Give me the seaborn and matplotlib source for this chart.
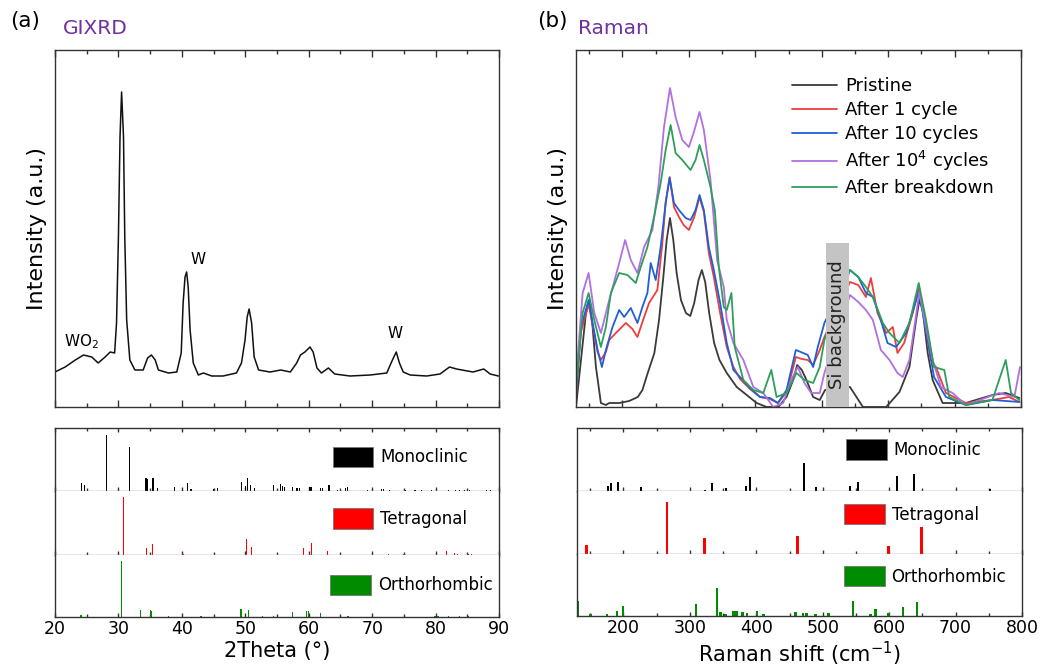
import numpy as np
import pandas as pd
import matplotlib
matplotlib.use("Agg")
import matplotlib.pyplot as plt
import seaborn as sns
from matplotlib.patches import Patch, Rectangle
from matplotlib.ticker import MultipleLocator

sns.set_theme(style="white")
plt.rcParams['font.family'] = ['DejaVu Sans']
plt.rcParams['mathtext.fontset'] = 'dejavusans'
plt.rcParams['text.color'] = 'black'
plt.rcParams['axes.labelcolor'] = 'black'
plt.rcParams['xtick.color'] = 'black'
plt.rcParams['ytick.color'] = 'black'

# ---------------- GIXRD pattern ----------------
xrd_2theta = [20.0, 21.6, 23.2, 24.5, 25.8, 26.8, 27.9, 28.7, 29.4, 29.7, 30.0, 30.25, 30.5, 30.8, 31.0,
              31.3, 31.8, 32.6, 33.9, 34.6, 35.2, 35.8, 36.3, 37.9, 39.2, 39.9, 40.2, 40.5, 40.75, 41.0,
              41.3, 41.8, 42.6, 43.4, 44.7, 46.5, 48.6, 49.4, 49.96, 50.3, 50.6, 51.0, 51.4, 52.1, 53.9,
              55.6, 57.1, 58.1, 58.7, 59.4, 60.2, 60.7, 61.3, 62.0, 63.1, 64.1, 66.5, 69.7, 72.3, 73.2,
              73.8, 74.3, 74.9, 76.0, 78.6, 80.7, 82.2, 83.3, 85.9, 87.6, 88.6, 89.9]
xrd_int = [35, 40, 47, 52, 50, 44, 50, 55, 54, 84, 170, 270, 315, 270, 170,
           87, 47, 37, 37, 49, 52, 47, 37, 34, 35, 54, 104, 130, 135, 120,
           77, 44, 32, 34, 31, 31, 34, 44, 67, 90, 98, 84, 50, 37, 35,
           37, 35, 44, 52, 55, 60, 55, 39, 34, 39, 33, 31, 32, 34, 47,
           55, 44, 35, 32, 31, 33, 40, 38, 35, 38, 33, 31]

# XRD reference stick patterns
mono_xrd_pos = [24.2, 24.6, 28.15, 31.7, 34.35, 34.55, 35.45, 36.1, 38.8, 40.1, 40.9, 41.3, 41.5, 45.0, 45.6,
                49.4, 50.0, 50.3, 50.85, 51.4, 54.5, 55.6, 55.9, 56.2, 57.4, 58.15, 58.5, 60.1, 60.35, 61.8,
                62.2, 63.2, 64.6, 65.8, 66.1, 69.3, 71.5, 71.8, 72.8, 75.3, 76.75, 77.8, 79.3, 82.0, 83.1,
                83.8, 84.6, 85.4, 88.05, 88.7]
mono_xrd_h = [8.3, 6, 56, 44, 13, 12, 12.7, 3.3, 4.3, 1, 8, 2.3, 2.3, 2.3, 3.3,
              9.3, 5, 12.7, 6, 2.7, 6, 6.7, 4.7, 4.3, 4, 3.3, 2.7, 4, 4, 2.7,
              3.3, 5.7, 1, 2.7, 4, 1, 1.7, 1.7, 0.7, 1, 1, 1, 1, 1, 1,
              1, 1, 1, 1, 1]
tet_xrd_pos = [30.77, 34.45, 35.4, 40.2, 50.2, 51.0, 59.15, 60.4, 63.0, 72.55, 74.9, 81.75, 82.95, 83.5, 85.15, 85.7]
tet_xrd_h = [56.7, 7.3, 11, 0.7, 15.3, 7.7, 6.7, 12, 4, 1, 1.3, 3.7, 1.7, 1.3, 1.3, 1.3]
ortho_xrd_pos = [24.1, 30.45, 33.45, 35.0, 35.2, 37.9, 43.0, 49.2, 49.4, 50.5, 52.7, 54.4, 57.45, 59.7, 59.95,
                 61.9, 66.2, 79.9, 80.4, 82.0, 83.8, 85.2]
ortho_xrd_h = [1.7, 56.7, 7, 7.3, 6.3, 1.3, 1, 7.7, 7.7, 7, 1.3, 1.3, 5.3, 6, 5.7,
               4, 0.7, 1.3, 1.3, 1.3, 0.7, 0.7]

# ---------------- Raman spectra ----------------
pristine_x = [130, 137.5, 145, 150, 155, 160, 167.5, 175, 180, 195, 210, 223, 230, 238, 248, 255, 261.5, 266.5,
              271.5, 276.5, 281.5, 288, 295.5, 302, 308, 314.5, 319.5, 324.5, 330.5, 338, 346, 357, 372, 387,
              402, 417, 434.5, 447, 457, 463, 470, 477, 487, 497, 505, 542.5, 562, 597, 617, 632, 642, 647,
              652, 659.5, 667, 682, 717, 757, 777, 797.5]
pristine_y = [0, 47, 94, 107, 80, 40, 4, 2, 4, 4, 6, 10, 17, 34, 54, 87, 130, 167,
              189, 167, 134, 107, 94, 91, 104, 127, 137, 125, 94, 64, 47, 34, 20, 12,
              4, 0, 0, 10, 27, 42, 37, 27, 10, 7, 17, 20, 0, 0, 15, 40, 87, 107,
              97, 54, 27, 4, 4, 12, 14, 9]
cyc1_x = [130, 137.5, 149, 155, 162.5, 167.5, 175, 180, 190, 205, 215, 222.5, 230, 240, 252.5, 260, 265, 271,
          277.5, 285, 292, 300, 308, 316, 322.5, 330, 337.5, 347, 357, 367, 377, 392, 407, 422, 434, 447,
          454, 461, 470, 479, 487, 497, 504, 542.5, 555, 566.5, 574, 584, 597, 607, 614, 624, 637, 646,
          654, 664, 672, 687, 717, 757, 782, 797.5]
cyc1_y = [10, 75, 103, 82, 55, 47, 55, 67, 74, 84, 78, 70, 85, 104, 117, 164, 205, 230,
          200, 190, 182, 177, 190, 210, 195, 154, 130, 94, 60, 40, 28, 18, 10, 8, 4, 15,
          32, 50, 48, 47, 42, 57, 70, 125, 122, 110, 129, 94, 74, 80, 54, 64, 94, 119,
          90, 47, 40, 14, 4, 7, 10, 5]
cyc10_x = [130, 137.5, 149, 155, 162.5, 169, 175, 185, 195, 202.5, 212.5, 222.5, 230, 237.5, 242.5, 250, 257.5,
           265, 271, 277.5, 285, 295, 302.5, 310, 316, 322.5, 330, 337.5, 347, 357, 367, 377, 392, 407, 422,
           434, 447, 454, 461, 472, 479, 487, 494, 504, 542.5, 555, 566.5, 577, 589, 599, 612, 627, 646,
           657, 669, 687, 717, 757, 797.5]
cyc10_y = [14, 80, 107, 84, 57, 40, 57, 80, 97, 90, 99, 84, 100, 114, 144, 127, 160,
           204, 229, 204, 197, 189, 187, 197, 212, 197, 160, 137, 104, 64, 37, 30, 19, 10, 9,
           4, 17, 37, 57, 54, 52, 40, 60, 84, 137, 130, 114, 110, 87, 64, 60, 74, 115,
           77, 30, 10, 2, 7, 5]
cyc1e4_x = [130, 140, 149, 157.5, 167.5, 180, 195, 204, 212.5, 222.5, 232.5, 245, 254, 262.5, 271.5, 280, 290,
            300, 307.5, 316, 322.5, 332.5, 342.5, 352.5, 357, 367, 382, 397, 412, 427, 442, 454, 464, 474,
            484, 497, 504, 542.5, 555, 566.5, 577, 589, 602, 614, 622, 632, 641, 647, 654, 667, 679.5,
            697, 717, 767, 790, 798.5]
cyc1e4_y = [27, 114, 134, 94, 74, 107, 144, 167, 147, 134, 160, 177, 220, 280, 319, 290, 267,
            260, 275, 295, 277, 227, 147, 120, 87, 64, 47, 20, 14, 0, 4, 27, 40, 24,
            14, 14, 34, 112, 105, 97, 87, 57, 47, 34, 30, 47, 87, 115, 90, 47, 20,
            14, 2, 14, 10, 40]
brk_x = [130, 140, 149, 157.5, 167.5, 175, 182.5, 195, 207.5, 220, 227.5, 237.5, 247.5, 257.5, 265, 272.5, 280,
         290, 302.5, 310, 316, 322.5, 332.5, 339, 345, 352.5, 357, 364, 369, 382, 397, 412, 424, 432, 447,
         462, 474, 487, 497, 504, 542.5, 555, 566.5, 577, 592, 602, 617, 632, 646, 657, 669, 684.5, 692,
         717, 757, 777, 785, 797.5]
brk_y = [20, 94, 114, 87, 60, 80, 114, 134, 132, 124, 140, 160, 190, 224, 257, 282, 254,
         247, 237, 247, 262, 247, 220, 197, 140, 100, 97, 114, 60, 27, 17, 14, 37, 10, 14,
         34, 27, 24, 40, 67, 137, 130, 120, 110, 84, 74, 64, 84, 124, 87, 40, 37, 10,
         2, 7, 47, 14, 7]
raman_labels = ["Pristine", "After 1 cycle", "After 10 cycles", "After 10$^4$ cycles", "After breakdown"]
raman_colors = ["#3a3a3a", "#F03C3C", "#1F5FD8", "#B070E0", "#2E9E5B"]

# Raman reference stick patterns
mono_raman_pos = [176.7, 181.7, 192.2, 225.9, 323, 333.3, 354.3, 385, 391, 471.3, 490.3, 541.5, 553, 611.8, 636.9, 752.3]
mono_raman_h = [5.3, 7.7, 9.3, 3.7, 0.7, 8, 3.3, 5, 14.3, 27.7, 4.3, 5, 9.3, 15.3, 17.3, 2.3]
tet_raman_pos = [144, 265.5, 322.7, 462.7, 599.2, 648.4]
tet_raman_h = [8.7, 51.7, 15.7, 18, 8, 26.7]
ortho_raman_pos = [131, 150, 175, 190, 199.3, 309, 340.8, 345.8, 353.3, 365.9, 370, 379.4, 386, 401, 411,
                   458.7, 470.3, 475.3, 488.8, 508.9, 545.5, 571.6, 579.2, 599.2, 620.8, 641.9]
ortho_raman_h = [15.3, 1.7, 1.7, 5, 10.3, 11.7, 28.3, 4, 2.3, 5, 5, 4.3, 2.7, 5, 2.3,
                 4.3, 2.7, 2.7, 1.7, 2.7, 15, 1.7, 6.7, 3.3, 9, 14.3]

phase_names = ["Monoclinic", "Tetragonal", "Orthorhombic"]
phase_colors = ["#000000", "#FF0000", "#008C00"]

si_band = (506, 541, 164)   # Si background shading: x from, x to, height

# ---------------- figure layout ----------------
W, H = 1041, 671
fig = plt.figure(figsize=(W / 100, H / 100), dpi=100)


def rect(l, t, r, b):
    return [l / W, 1 - b / H, (r - l) / W, (b - t) / H]


axA = fig.add_axes(rect(55, 50, 499, 407))
axB = fig.add_axes(rect(576, 50, 1021, 407))
rowsA = [fig.add_axes(rect(55, t, 499, b)) for t, b in [(428, 491), (491, 555), (555, 617)]]
rowsB = [fig.add_axes(rect(577, t, 1022, b)) for t, b in [(428, 491), (491, 554), (554, 616)]]

spine_c = "#333333"
for ax in [axA, axB] + rowsA + rowsB:
    for s in ax.spines.values():
        s.set_color(spine_c)
        s.set_linewidth(1.0)
    ax.set_facecolor("white")

# ---------------- (a) GIXRD top ----------------
sns.lineplot(x=xrd_2theta, y=xrd_int, ax=axA, color="#111111", lw=1.1, estimator=None, sort=False)
axA.set_xlim(20, 90)
axA.set_ylim(0, 357)
axA.set_yticks([])
axA.xaxis.set_major_locator(MultipleLocator(10))
axA.xaxis.set_minor_locator(MultipleLocator(5))
axA.tick_params(axis="x", which="both", direction="in", top=True, bottom=True, labelbottom=False, color=spine_c)
axA.tick_params(axis="x", which="major", length=5, width=1)
axA.tick_params(axis="x", which="minor", length=3, width=1)
axA.set_ylabel("Intensity (a.u.)", fontsize=16, labelpad=6)
axA.text(24.1, 65, "WO$_2$", fontsize=11, ha="center", va="center")
axA.text(42.6, 147, "W", fontsize=11, ha="center", va="center")
axA.text(73.6, 74, "W", fontsize=11, ha="center", va="center")

# ---------------- (b) Raman top ----------------
series = [(pristine_x, pristine_y), (cyc1_x, cyc1_y), (cyc10_x, cyc10_y), (cyc1e4_x, cyc1e4_y), (brk_x, brk_y)]
for (xs, ys), lab, col in zip(series, raman_labels, raman_colors):
    sns.lineplot(x=xs, y=ys, ax=axB, color=col, lw=1.3, label=lab, estimator=None, sort=False)
axB.set_xlim(130, 800)
axB.set_ylim(0, 357)
axB.set_yticks([])
axB.xaxis.set_major_locator(MultipleLocator(100))
axB.xaxis.set_minor_locator(MultipleLocator(50))
axB.tick_params(axis="x", which="both", direction="in", top=True, bottom=True, labelbottom=False, color=spine_c)
axB.tick_params(axis="x", which="major", length=5, width=1)
axB.tick_params(axis="x", which="minor", length=3, width=1)
axB.set_ylabel("Intensity (a.u.)", fontsize=16, labelpad=6)
axB.add_patch(Rectangle((si_band[0], 0), si_band[1] - si_band[0], si_band[2],
                        facecolor="#C4C4C4", edgecolor="none", zorder=5))
axB.text((si_band[0] + si_band[1]) / 2, si_band[2] / 2, "Si background", rotation=90,
         fontsize=13, ha="center", va="center", color="#222222", zorder=6)
leg = axB.legend(loc="upper left", bbox_to_anchor=(0.485, 0.924), frameon=False, fontsize=13,
                 handlelength=2.5, handletextpad=0.45, labelspacing=0.33, borderpad=0, borderaxespad=0)

# ---------------- stick panels ----------------
def stick_rows(rows, data, width_list, xlim, major, minor, xlabel, anchors):
    for i, (ax, (pos, h), col, name, wd, anc) in enumerate(zip(rows, data, phase_colors, phase_names, width_list, anchors)):
        ax.bar(pos, h, width=wd, color=col, edgecolor="none", align="center")
        ax.set_xlim(*xlim)
        ax.set_ylim(0, 63)
        ax.set_yticks([])
        ax.xaxis.set_major_locator(MultipleLocator(major))
        ax.xaxis.set_minor_locator(MultipleLocator(minor))
        ax.tick_params(axis="x", which="both", direction="in", top=(i == 0), bottom=True,
                       labelbottom=(i == 2), color=spine_c, labelsize=12.5, pad=2)
        ax.tick_params(axis="x", which="major", length=3, width=1)
        ax.tick_params(axis="x", which="minor", length=2, width=1)
        if i > 0:
            ax.spines["top"].set_visible(False)
        if i < 2:
            ax.spines["bottom"].set_color("#8a8a8a")
        handle = Patch(facecolor=col, edgecolor="#777777", linewidth=0.6)
        ax.legend([handle], [name], loc="center left", bbox_to_anchor=anc, frameon=False, fontsize=12,
                  handlelength=2.45, handleheight=1.5, handletextpad=0.4, borderpad=0, borderaxespad=0)
    rows[2].set_xlabel(xlabel, fontsize=15, labelpad=2)


stick_rows(rowsA, [(mono_xrd_pos, mono_xrd_h), (tet_xrd_pos, tet_xrd_h), (ortho_xrd_pos, ortho_xrd_h)],
           [0.18, 0.2, 0.2], (20, 90), 10, 5, "2Theta (°)",
           [(0.625, 0.54), (0.625, 0.57), (0.62, 0.52)])
stick_rows(rowsB, [(mono_raman_pos, mono_raman_h), (tet_raman_pos, tet_raman_h), (ortho_raman_pos, ortho_raman_h)],
           [3.0, 4.5, 4.0], (130, 800), 100, 50, "Raman shift (cm$^{-1}$)",
           [(0.604, 0.66), (0.6, 0.63), (0.6, 0.64)])

# ---------------- panel titles ----------------
fig.text(10 / W, 1 - 21 / H, "(a)", fontsize=15.5, ha="left", va="center")
fig.text(63 / W, 1 - 29 / H, "GIXRD", fontsize=14.5, ha="left", va="center", color="#7030A0")
fig.text(537 / W, 1 - 21 / H, "(b)", fontsize=15.5, ha="left", va="center")
fig.text(578 / W, 1 - 29 / H, "Raman", fontsize=14.5, ha="left", va="center", color="#7030A0")

fig.savefig("out.png", dpi=100, facecolor="white")
